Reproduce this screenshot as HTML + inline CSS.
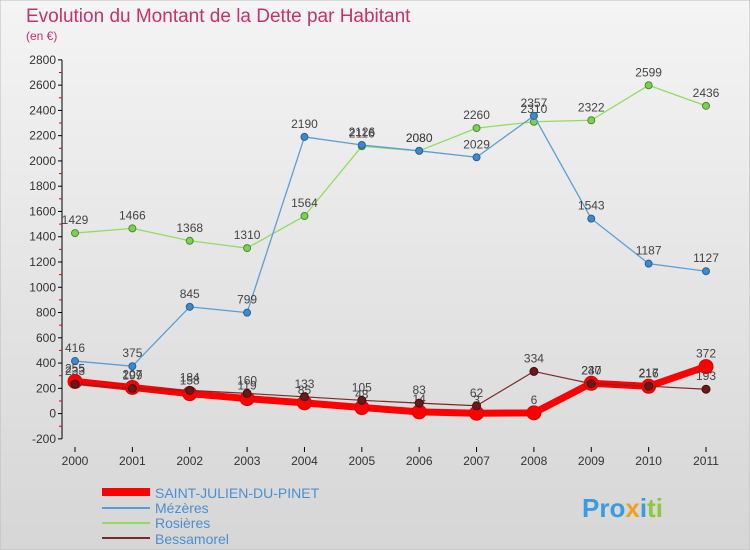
<!DOCTYPE html>
<html><head><meta charset="utf-8"><style>
body{margin:0;width:750px;height:550px;overflow:hidden;font-family:"Liberation Sans",sans-serif}
svg{display:block}
</style></head><body>
<svg id="chart" width="750" height="550" xmlns="http://www.w3.org/2000/svg">
<defs><linearGradient id="bg" x1="0" y1="0" x2="0" y2="1"><stop offset="0" stop-color="#f4f4f4"/><stop offset="1" stop-color="#d6d6d6"/></linearGradient></defs>
<rect x="0" y="0" width="750" height="550" fill="url(#bg)" stroke="#bbb"/>
<text x="26" y="22" font-size="19" fill="#c8306e">Evolution du Montant de la Dette par Habitant</text>
<text x="26" y="40" font-size="12" fill="#c8306e">(en €)</text>
<g id="axes"></g><g id="series"></g>
<g>
<rect x="102" y="488" width="48" height="8" fill="#ff0000"/>
<text x="155" y="498" font-size="14" fill="#4a8fd0">SAINT-JULIEN-DU-PINET</text>
<line x1="102" y1="508" x2="150" y2="508" stroke="#5a9fd4" stroke-width="2"/>
<text x="155" y="513" font-size="14" fill="#4a8fd0">Mézères</text>
<line x1="102" y1="523" x2="150" y2="523" stroke="#8fdd60" stroke-width="2"/>
<text x="155" y="528" font-size="14" fill="#4a8fd0">Rosières</text>
<line x1="102" y1="538" x2="150" y2="538" stroke="#7a2a2a" stroke-width="2"/>
<text x="155" y="544" font-size="14" fill="#4a8fd0">Bessamorel</text>
</g>
<text x="582" y="517" font-size="26" font-weight="bold" fill="#3a9be0">Pro<tspan fill="#f0a020">x</tspan><tspan fill="#3a9be0">i</tspan><tspan fill="#8cc83c">ti</tspan></text>
</svg>
<script>
const years=[2000,2001,2002,2003,2004,2005,2006,2007,2008,2009,2010,2011];
const yTicks=[-200,0,200,400,600,800,1000,1200,1400,1600,1800,2000,2200,2400,2600,2800];
const stJulien=[255,207,158,119,85,48,14,3,6,240,216,372];
const mezeres=[416,375,845,799,2190,2126,2080,2029,2357,1543,1187,1127];
const rosieres=[1429,1466,1368,1310,1564,2116,2080,2260,2310,2322,2599,2436];
const bessamorel=[233,199,184,160,133,105,83,62,334,237,217,193];
const NS="http://www.w3.org/2000/svg";
const x=i=>75+i*(706-75)/(years.length-1);
const y=v=>413.6-v*(439-60)/3000;
function mk(t,a,p){const e=document.createElementNS(NS,t);for(const k in a)e.setAttribute(k,a[k]);p.appendChild(e);return e;}
const ax=document.getElementById('axes');
const yl=mk('line',{x1:62,y1:y(2800),x2:62,y2:y(-200),stroke:'#000'},ax);


yTicks.forEach((v,k)=>{
 mk('line',{x1:58,y1:y(v),x2:62,y2:y(v),stroke:'#000'},ax);
 if(k<yTicks.length-1) mk('line',{x1:59,y1:y(v+100),x2:62,y2:y(v+100),stroke:'#e00'},ax);
 const t=mk('text',{x:56,y:y(v)+4,'text-anchor':'end','font-size':12,fill:'#333'},ax);
 
 
 t.textContent=v;
});
years.forEach((yr,i)=>{
 mk('line',{x1:x(i),y1:447,x2:x(i),y2:452,stroke:'#000'},ax);
 const t=mk('text',{x:x(i),y:465,'text-anchor':'middle','font-size':12,fill:'#333'},ax);
 
 
 t.textContent=yr;
});
const sg=document.getElementById('series');
function series(name,data,color,w,r,dot,stroke){
 const g=mk('g',{},sg);
 
 
 const pl=mk('polyline',{points:data.map((v,i)=>x(i)+','+y(v)).join(' '),fill:'none',stroke:color,'stroke-width':w,'stroke-linejoin':'round'},g);
 
 
 data.forEach((v,i)=>{
  const c=mk('circle',{cx:x(i),cy:y(v),r:r,fill:dot,stroke:stroke,'stroke-width':1},g);
  
  
  const t=mk('text',{x:x(i),y:y(v)-9,'text-anchor':'middle','font-size':12,fill:'#444'},g);
  
  
  t.textContent=v;
 });
}
series('rosieres',rosieres,'#8fdd60',1.3,3.5,'#7ed050','#4a8a30');
series('mezeres',mezeres,'#5a9fd4',1.3,3.5,'#3a8ad0','#2a6090');
series('saint-julien',stJulien,'#ff0000',7,7,'#ff0000','#d00');
series('bessamorel',bessamorel,'#7a2a2a',1.2,4,'#6a1818','#401010');
</script>
</body></html>
